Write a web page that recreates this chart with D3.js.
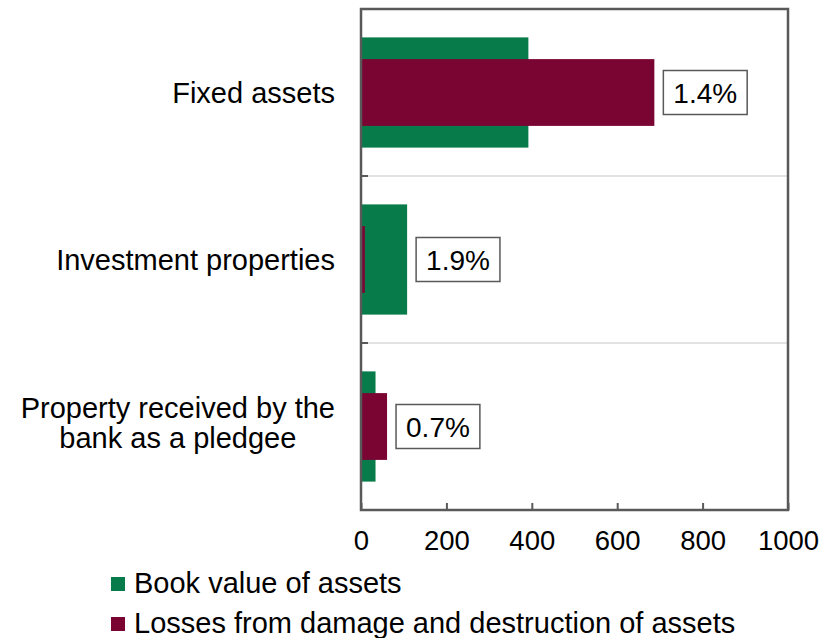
<!DOCTYPE html>
<html>
<head>
<meta charset="utf-8">
<script src="https://cdn.jsdelivr.net/npm/d3@7"></script>
<style>
    body { margin: 0; background: #fff; }
    svg { display: block; font-family: "Liberation Sans", Arial, sans-serif; }
</style>
</head>
<body>
<svg id="chart" width="837" height="638"></svg>
<script>

var categories = [
    ['Fixed assets'],
    ['Investment properties'],
    ['Property received by the', 'bank as a pledgee']
];

var bookValue = [392, 108, 34];

var losses = [687, 9, 61];

var shareLabels = ['1.4%', '1.9%', '0.7%'];

var xTicks = [0, 200, 400, 600, 800, 1000];

var seriesNames = ['Book value of assets', 'Losses from damage and destruction of assets'];

var colors = {
    'book' : '#077c4a',
    'loss' : '#7a0533',
    'axis' : '#595959',
    'grid' : '#d9d9d9'
};

var plot = { left: 361, right: 788, top: 9, bottom: 510 };

var fontSize = 29;

var svg = d3.select('#chart');

var x = d3.scaleLinear()
    .domain([0, 1000])
    .range([plot.left, plot.right]);

var y = d3.scaleBand()
    .domain(d3.range(categories.length))
    .range([plot.top, plot.bottom]);

var bw = y.bandwidth();


function drawGrid() {

    // light lines between the categories
    svg.append('g')
        .selectAll('line')
        .data(d3.range(1, categories.length))
        .enter()
        .append('line')
        .attr('x1', plot.left)
        .attr('x2', plot.right)
        .attr('y1', function(d) { return y(d); })
        .attr('y2', function(d) { return y(d); })
        .attr('stroke', colors.grid)
        .attr('stroke-width', 1.5);
}


function drawBars() {

    var g = svg.append('g');

    g.selectAll('.book')
        .data(bookValue)
        .enter()
        .append('rect')
        .attr('class', 'book')
        .attr('x', x(0))
        .attr('y', function(d, i) { return y(i) + bw * 0.17; })
        .attr('width', function(d) { return x(d) - x(0); })
        .attr('height', bw * 0.66)
        .attr('fill', colors.book);

    g.selectAll('.loss')
        .data(losses)
        .enter()
        .append('rect')
        .attr('class', 'loss')
        .attr('x', x(0))
        .attr('y', function(d, i) { return y(i) + bw * 0.3; })
        .attr('width', function(d) { return x(d) - x(0); })
        .attr('height', bw * 0.4)
        .attr('fill', colors.loss);
}


function drawAxes() {

    var xAxis = d3.axisBottom(x)
        .tickValues(xTicks)
        .tickSize(-7)
        .tickPadding(20)
        .tickFormat(d3.format('d'));

    var gx = svg.append('g')
        .attr('transform', 'translate(0,' + plot.bottom + ')')
        .call(xAxis);

    gx.select('.domain').remove();

    gx.selectAll('line')
        .attr('stroke', colors.axis)
        .attr('stroke-width', 2);

    gx.selectAll('text')
        .attr('fill', '#000')
        .attr('dy', '0.71em')
        .style('font-size', '27.5px')
        .style('font-family', '"Liberation Sans", Arial, sans-serif');

    // left ticks at category boundaries
    svg.append('g')
        .selectAll('line')
        .data(d3.range(categories.length + 1))
        .enter()
        .append('line')
        .attr('x1', plot.left)
        .attr('x2', plot.left + 7)
        .attr('y1', function(d) { return plot.top + d * bw; })
        .attr('y2', function(d) { return plot.top + d * bw; })
        .attr('stroke', colors.axis)
        .attr('stroke-width', 2);

    // frame
    svg.append('rect')
        .attr('x', plot.left)
        .attr('y', plot.top)
        .attr('width', plot.right - plot.left)
        .attr('height', plot.bottom - plot.top)
        .attr('fill', 'none')
        .attr('stroke', colors.axis)
        .attr('stroke-width', 2.5);

    // category names
    var labels = svg.append('g')
        .selectAll('text')
        .data(categories)
        .enter()
        .append('text')
        .attr('font-size', fontSize)
        .attr('fill', '#000')
        .attr('text-anchor', 'middle');

    labels.each(function(lines, i) {

        var that = d3.select(this);

        var cy = y(i) + bw / 2;

        var offset = lines.length > 1 ? -9 : 10;

        lines.forEach(function(line, j) {
            that.append('tspan')
                .attr('y', cy + offset + j * 30)
                .text(line);
        });

        var maxW = 0;

        that.selectAll('tspan').each(function() {
            maxW = Math.max(maxW, this.getComputedTextLength());
        });

        that.selectAll('tspan').attr('x', plot.left - 26 - maxW / 2);
    });
}


function drawShareLabels() {

    var g = svg.append('g')
        .selectAll('g')
        .data(shareLabels)
        .enter()
        .append('g');

    g.each(function(d, i) {

        var that = d3.select(this);

        var left = x(Math.max(bookValue[i], losses[i])) + 9;

        var cy = y(i) + bw / 2;

        var rect = that.append('rect');

        var txt = that.append('text')
            .attr('x', left + 10)
            .attr('y', cy + 10)
            .attr('font-size', 28)
            .attr('fill', '#000')
            .text(d);

        var w = txt.node().getComputedTextLength();

        rect.attr('x', left)
            .attr('y', cy - 22)
            .attr('width', w + 20)
            .attr('height', 44)
            .attr('fill', '#fff')
            .attr('stroke', colors.axis)
            .attr('stroke-width', 1.5);
    });
}


function drawLegend() {

    var items = svg.append('g')
        .selectAll('g')
        .data(seriesNames)
        .enter()
        .append('g')
        .attr('transform', function(d, i) {
            return 'translate(111,' + (577 + i * 40) + ')';
        });

    items.append('rect')
        .attr('width', 14)
        .attr('height', 14)
        .attr('fill', function(d, i) { return i === 0 ? colors.book : colors.loss; });

    items.append('text')
        .attr('x', 23)
        .attr('y', 16)
        .attr('font-size', fontSize)
        .attr('fill', '#000')
        .text(function(d) { return d; });
}


drawGrid();

drawBars();

drawAxes();

drawShareLabels();

drawLegend();

</script>
</body>
</html>
